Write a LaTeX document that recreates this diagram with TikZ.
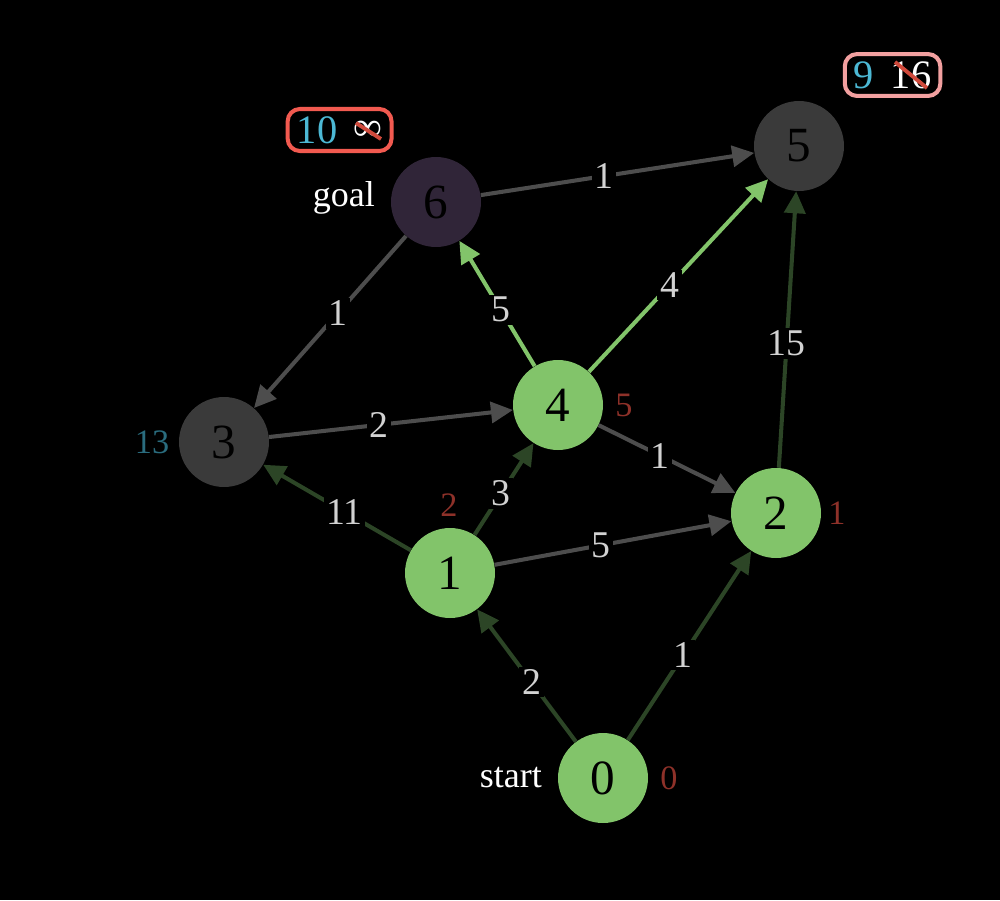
\documentclass[tikz,border=0pt]{standalone}
\usepackage{fontspec}
\setmainfont{Liberation Serif}
\usetikzlibrary{arrows.meta,fit}
\definecolor{done}{HTML}{82C46A}
\definecolor{unseen}{HTML}{3A3A3A}
\definecolor{goalfill}{HTML}{302538}
\definecolor{treeedge}{HTML}{2C4526}
\definecolor{plainedge}{HTML}{4D4D4D}
\definecolor{wtext}{HTML}{D2D2D2}
\definecolor{distred}{HTML}{8E3129}
\definecolor{distteal}{HTML}{2A6C7E}
\definecolor{newval}{HTML}{4CB8D4}
\definecolor{boxred}{HTML}{F25A50}
\definecolor{boxpink}{HTML}{F2A0A0}
\definecolor{strikered}{HTML}{D04A3C}
\tikzset{
  vertex/.style={circle,minimum size=1.8cm,inner sep=0pt,text=black,font=\fontsize{28}{30}\selectfont},
  wt/.style={fill=black,text=wtext,inner sep=1.5pt,pos=0.45,font=\fontsize{21.5}{23}\selectfont},
  dist/.style={text=distred,font=\fontsize{19.5}{21}\selectfont},
  side/.style={text=white,font=\fontsize{20.5}{22}\selectfont},
  tree/.style={->,treeedge,line width=2.3pt},
  plain/.style={->,plainedge,line width=2.3pt},
  path/.style={->,done,line width=2.3pt},
  upd/.style={inner sep=1pt,font=\fontsize{23}{25}\selectfont},
  updbox/.style={draw,rounded corners=7pt,line width=2.3pt,inner xsep=4pt,inner ysep=3pt},
  strike/.style={strikered,line width=2.2pt}
}
\begin{document}
\begin{tikzpicture}[x=0.02cm,y=-0.02cm,>={Triangle[length=0.44cm,width=0.42cm]}]
\fill[black] (0,0) rectangle (1000,900);
% vertices
\node[vertex,fill=done] (v0) at (603,778) {0};
\node[vertex,fill=done] (v1) at (450,573) {1};
\node[vertex,fill=done] (v2) at (776,513) {2};
\node[vertex,fill=unseen] (v3) at (224,442) {3};
\node[vertex,fill=done] (v4) at (558,405) {4};
\node[vertex,fill=unseen] (v5) at (799,146) {5};
\node[vertex,fill=goalfill] (v6) at (436,202) {6};
% edges
\draw[tree] (v0) -- (v1) node[wt] {2};
\draw[tree] (v0) -- (v2) node[wt] {1};
\draw[tree] (v1) -- (v3) node[wt] {11};
\draw[tree] (v1) -- (v4) node[wt] {3};
\draw[plain] (v1) -- (v2) node[wt] {5};
\draw[tree] (v2) -- (v5) node[wt] {15};
\draw[plain] (v4) -- (v2) node[wt] {1};
\draw[plain] (v3) -- (v4) node[wt] {2};
\draw[path] (v4) -- (v6) node[wt] {5};
\draw[path] (v4) -- (v5) node[wt] {4};
\draw[plain] (v6) -- (v3) node[wt] {1};
\draw[plain] (v6) -- (v5) node[wt] {1};
% distances
\node[dist] (d0) at (669,778) {0};
\node[dist] (d1) at (837,513) {1};
\node[dist] (d2) at (449,505) {2};
\node[dist] (d4) at (624,405) {5};
\node[dist,text=distteal] (d3) at (152,442) {13};
\node[side,left] (start) at (548,778) {start};
\node[side,left] (goal) at (381,198) {goal};
% updates
\node[upd,text=newval] (n6) at (317,130) {10};
\node[upd,text=white] (o6) at (368,131) {∞};
\node[updbox,draw=boxred,fit=(n6)(o6)] (b6) {};
\draw[strike] ([shift={(-12,-8)}]o6.center) -- ([shift={(13,8)}]o6.center);
\node[upd,text=newval] (n5) at (864,75) {9};
\node[upd,text=white] (o5) at (911,75) {16};
\node[updbox,draw=boxpink,fit=(n5)(o5)] (b5) {};
\draw[strike] ([shift={(-16,-13)}]o5.center) -- ([shift={(16,13)}]o5.center);
\end{tikzpicture}
\end{document}
